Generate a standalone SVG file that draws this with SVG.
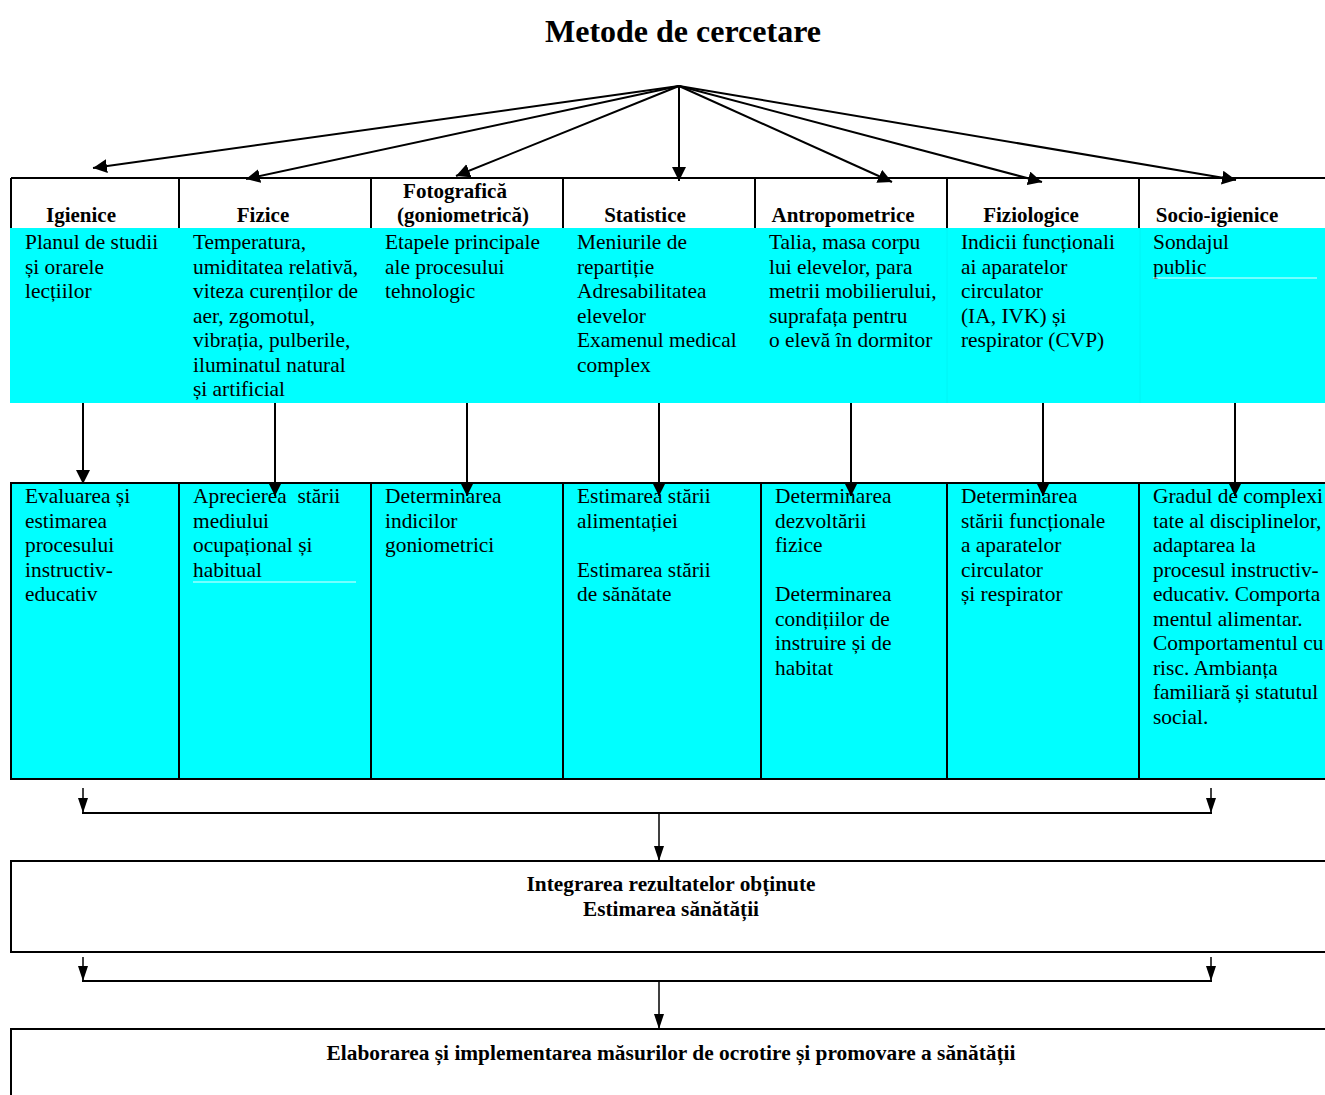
<svg xmlns="http://www.w3.org/2000/svg" width="1325" height="1095" viewBox="0 0 1325 1095">
<defs>
<style>
text{font-family:"Liberation Serif","Times New Roman",serif;fill:#000}
.t{font-size:21.4px}
.b{font-size:21px;font-weight:bold;text-anchor:middle}
.bb{font-size:20px;font-weight:bold;text-anchor:middle}
.ln{stroke:#000;stroke-width:2;fill:none}
.thin{stroke:#000;stroke-width:1.5;fill:none}
.cy{fill:#00ffff}
.faint{stroke:#e6ffff;stroke-width:1}
</style>
<marker id="ah" markerUnits="userSpaceOnUse" markerWidth="15" markerHeight="15" refX="14" refY="7" orient="auto"><path d="M0,0 L14,7 L0,14 z" fill="#000"/></marker>
<marker id="as" markerUnits="userSpaceOnUse" markerWidth="16" markerHeight="11" refX="15" refY="5" orient="auto"><path d="M0,0 L15,5 L0,10 z" fill="#000"/></marker>
</defs>
<rect width="1325" height="1095" fill="#fff"/>
<text x="683" y="42" style="font-size:32px;font-weight:bold;text-anchor:middle">Metode de cercetare</text>

<g id="table-header">
<line class="ln" x1="11" y1="178" x2="1325" y2="178"/>
<line class="ln" x1="11" y1="178" x2="11" y2="229"/>
<line class="ln" x1="179" y1="178" x2="179" y2="229"/>
<line class="ln" x1="371" y1="178" x2="371" y2="229"/>
<line class="ln" x1="563" y1="178" x2="563" y2="229"/>
<line class="ln" x1="755" y1="178" x2="755" y2="229"/>
<line class="ln" x1="947" y1="178" x2="947" y2="229"/>
<line class="ln" x1="1139" y1="178" x2="1139" y2="229"/>
<rect class="cy" x="10" y="228" width="1315" height="175"/>
<line x1="947" y1="228" x2="947" y2="403" stroke="#00f4f4" stroke-width="1"/>
<line x1="1140" y1="228" x2="1140" y2="403" stroke="#00f4f4" stroke-width="1"/>
</g>

<g id="bottom-row-frame">
<rect class="cy" x="11" y="483" width="1316" height="296" stroke="#000" stroke-width="2"/>
<line class="ln" x1="179" y1="483" x2="179" y2="779"/>
<line class="ln" x1="371" y1="483" x2="371" y2="779"/>
<line class="ln" x1="563" y1="483" x2="563" y2="779"/>
<line class="ln" x1="761" y1="483" x2="761" y2="779"/>
<line class="ln" x1="947" y1="483" x2="947" y2="779"/>
<line class="ln" x1="1139" y1="483" x2="1139" y2="779"/>
</g>

<g id="igienice">
<text class="b" x="81" y="222">Igienice</text>
<text class="t" x="25" y="249">Planul de studii<tspan x="25" dy="24.5">și orarele</tspan><tspan x="25" dy="24.5">lecțiilor</tspan></text>
<text class="t" x="25" y="503">Evaluarea și<tspan x="25" dy="24.5">estimarea</tspan><tspan x="25" dy="24.5">procesului</tspan><tspan x="25" dy="24.5">instructiv-</tspan><tspan x="25" dy="24.5">educativ</tspan></text>
</g>

<g id="fizice">
<text class="b" x="263" y="222">Fizice</text>
<text class="t" x="193" y="249">Temperatura,<tspan x="193" dy="24.5">umiditatea relativă,</tspan><tspan x="193" dy="24.5">viteza curenților de</tspan><tspan x="193" dy="24.5">aer, zgomotul,</tspan><tspan x="193" dy="24.5">vibrația, pulberile,</tspan><tspan x="193" dy="24.5">iluminatul natural</tspan><tspan x="193" dy="24.5">și artificial</tspan></text>
<text class="t" x="193" y="503" xml:space="preserve">Aprecierea  stării<tspan x="193" dy="24.5">mediului</tspan><tspan x="193" dy="24.5">ocupațional și</tspan><tspan x="193" dy="24.5">habitual</tspan></text>
<line class="faint" x1="193" y1="582" x2="356" y2="582"/>
</g>

<g id="fotografica">
<text class="b" x="455" y="198">Fotografică</text>
<text class="b" x="463" y="222">(goniometrică)</text>
<text class="t" x="385" y="249">Etapele principale<tspan x="385" dy="24.5">ale procesului</tspan><tspan x="385" dy="24.5">tehnologic</tspan></text>
<text class="t" x="385" y="503">Determinarea<tspan x="385" dy="24.5">indicilor</tspan><tspan x="385" dy="24.5">goniometrici</tspan></text>
</g>

<g id="statistice">
<text class="b" x="645" y="222">Statistice</text>
<text class="t" x="577" y="249">Meniurile de<tspan x="577" dy="24.5">repartiție</tspan><tspan x="577" dy="24.5">Adresabilitatea</tspan><tspan x="577" dy="24.5">elevelor</tspan><tspan x="577" dy="24.5">Examenul medical</tspan><tspan x="577" dy="24.5">complex</tspan></text>
<text class="t" x="577" y="503">Estimarea stării<tspan x="577" dy="24.5">alimentației</tspan><tspan x="577" dy="49">Estimarea stării</tspan><tspan x="577" dy="24.5">de sănătate</tspan></text>
</g>

<g id="antropometrice">
<text class="b" x="843" y="222">Antropometrice</text>
<text class="t" x="769" y="249">Talia, masa corpu<tspan x="769" dy="24.5">lui elevelor, para</tspan><tspan x="769" dy="24.5">metrii mobilierului,</tspan><tspan x="769" dy="24.5">suprafața pentru</tspan><tspan x="769" dy="24.5">o elevă în dormitor</tspan></text>
<text class="t" x="775" y="503">Determinarea<tspan x="775" dy="24.5">dezvoltării</tspan><tspan x="775" dy="24.5">fizice</tspan><tspan x="775" dy="49">Determinarea</tspan><tspan x="775" dy="24.5">condițiilor de</tspan><tspan x="775" dy="24.5">instruire și de</tspan><tspan x="775" dy="24.5">habitat</tspan></text>
</g>

<g id="fiziologice">
<text class="b" x="1031" y="222">Fiziologice</text>
<text class="t" x="961" y="249">Indicii funcționali<tspan x="961" dy="24.5">ai aparatelor</tspan><tspan x="961" dy="24.5">circulator</tspan><tspan x="961" dy="24.5">(IA, IVK) și</tspan><tspan x="961" dy="24.5">respirator (CVP)</tspan></text>
<text class="t" x="961" y="503">Determinarea<tspan x="961" dy="24.5">stării funcționale</tspan><tspan x="961" dy="24.5">a aparatelor</tspan><tspan x="961" dy="24.5">circulator</tspan><tspan x="961" dy="24.5">și respirator</tspan></text>
</g>

<g id="socio-igienice">
<text class="b" x="1217" y="222">Socio-igienice</text>
<text class="t" x="1153" y="249">Sondajul<tspan x="1153" dy="24.5">public</tspan></text>
<line class="faint" x1="1153" y1="278" x2="1317" y2="278"/>
<text class="t" x="1153" y="503">Gradul de complexi<tspan x="1153" dy="24.5">tate al disciplinelor,</tspan><tspan x="1153" dy="24.5">adaptarea la</tspan><tspan x="1153" dy="24.5">procesul instructiv-</tspan><tspan x="1153" dy="24.5">educativ. Comporta</tspan><tspan x="1153" dy="24.5">mentul alimentar.</tspan><tspan x="1153" dy="24.5">Comportamentul cu</tspan><tspan x="1153" dy="24.5">risc. Ambianța</tspan><tspan x="1153" dy="24.5">familiară și statutul</tspan><tspan x="1153" dy="24.5">social.</tspan></text>
</g>

<g id="integrare">
<rect x="11" y="861" width="1316" height="91" fill="#fff" stroke="#000" stroke-width="2"/>
<text class="bb" x="671" y="891" textLength="289" lengthAdjust="spacingAndGlyphs">Integrarea rezultatelor obținute</text>
<text class="bb" x="671" y="916" textLength="176" lengthAdjust="spacingAndGlyphs">Estimarea sănătății</text>
</g>

<g id="elaborare">
<rect x="11" y="1029" width="1316" height="80" fill="#fff" stroke="#000" stroke-width="2"/>
<text class="bb" x="671" y="1060" textLength="689" lengthAdjust="spacingAndGlyphs">Elaborarea și implementarea măsurilor de ocrotire și promovare a sănătății</text>
</g>

<g id="connectors">
<line class="ln" x1="679" y1="86" x2="93" y2="168" marker-end="url(#ah)"/>
<line class="ln" x1="679" y1="86" x2="246" y2="179" marker-end="url(#ah)"/>
<line class="ln" x1="679" y1="86" x2="456" y2="176" marker-end="url(#ah)"/>
<line class="ln" x1="679" y1="86" x2="679" y2="181" marker-end="url(#ah)"/>
<line class="ln" x1="679" y1="86" x2="892" y2="182" marker-end="url(#ah)"/>
<line class="ln" x1="679" y1="86" x2="1042" y2="182" marker-end="url(#ah)"/>
<line class="ln" x1="679" y1="86" x2="1236" y2="180" marker-end="url(#ah)"/>

<line class="ln" x1="83" y1="403" x2="83" y2="484" marker-end="url(#ah)"/>
<line class="ln" x1="275" y1="403" x2="275" y2="496" marker-end="url(#ah)"/>
<line class="ln" x1="467" y1="403" x2="467" y2="496" marker-end="url(#ah)"/>
<line class="ln" x1="659" y1="403" x2="659" y2="496" marker-end="url(#ah)"/>
<line class="ln" x1="851" y1="403" x2="851" y2="496" marker-end="url(#ah)"/>
<line class="ln" x1="1043" y1="403" x2="1043" y2="496" marker-end="url(#ah)"/>
<line class="ln" x1="1235" y1="403" x2="1235" y2="496" marker-end="url(#ah)"/>

<line class="thin" x1="83" y1="788" x2="83" y2="813" marker-end="url(#as)"/>
<line class="thin" x1="1211" y1="788" x2="1211" y2="813" marker-end="url(#as)"/>
<line class="ln" x1="82" y1="813" x2="1212" y2="813"/>
<line class="thin" x1="659" y1="813" x2="659" y2="861" marker-end="url(#as)"/>

<line class="thin" x1="83" y1="957" x2="83" y2="981" marker-end="url(#as)"/>
<line class="thin" x1="1211" y1="957" x2="1211" y2="981" marker-end="url(#as)"/>
<line class="ln" x1="82" y1="981" x2="1212" y2="981"/>
<line class="thin" x1="659" y1="981" x2="659" y2="1029" marker-end="url(#as)"/>
</g>
</svg>
